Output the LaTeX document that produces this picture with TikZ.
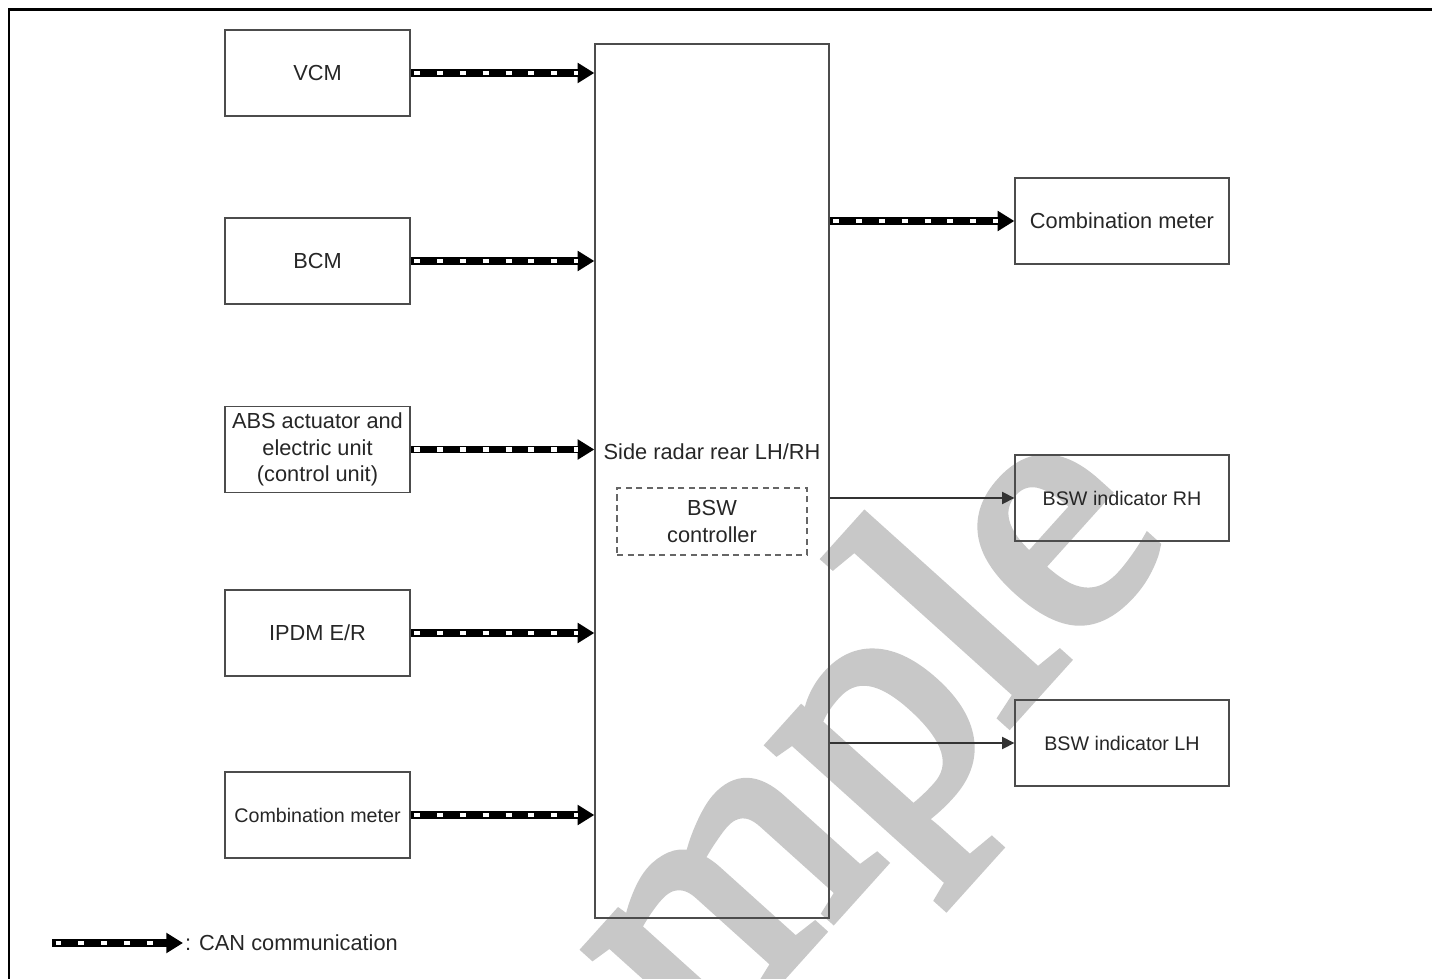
\documentclass[tikz,border=0pt]{standalone}
\usepackage{fontspec}
\setmainfont{Liberation Sans}
\newfontfamily\wmfont[FakeBold=3]{Liberation Serif}
\usetikzlibrary{arrows.meta}
\definecolor{wmgray}{RGB}{200,200,200}
\tikzset{
  unit/.style = {draw=black!70, line width=0.8pt, minimum width=3.7cm, minimum height=1.72cm,
                 align=center, inner sep=1pt, text=black!85, font=\fontsize{12.4}{15}\selectfont},
  small/.style = {font=\fontsize{11.2}{14}\selectfont},
  can/.style = {line width=4.5pt, -{Triangle[length=9.5pt,width=11pt]},
                postaction={draw=white, line width=2.8pt, arrows=-, dash pattern=on 3.4pt off 9.6pt,
                            dash phase=11pt, shorten >=9.5pt}},
  sig/.style = {line width=0.8pt, draw=black!80, -{Triangle[length=7pt,width=7pt]}},
}
\begin{document}
\begin{tikzpicture}[x=0.02cm, y=-0.02cm]
  \useasboundingbox (0,0) rectangle (1432,979);
  \begin{scope}
    \clip (0,0) rectangle (1432,979);
    \node [wmgray, inner sep=0, rotate=48, anchor=base west,
           font=\wmfont\fontsize{201}{201}\selectfont] (wmark) at (466,1326) {Sample};
  \end{scope}
  \draw [line width=1.7pt] (1432,10) -- (9,10) -- (9,979);

  % inputs
  \node [unit] (vcm)    at (317.5,73)    {VCM};
  \node [unit] (bcm)    at (317.5,261)   {BCM};
  \node [unit] (abs)    at (317.5,449.5) {ABS actuator and\\electric unit\\(control unit)};
  \node [unit] (ipdm)   at (317.5,633)   {IPDM E/R};
  \node [unit, small] (meterl) at (317.5,815) {Combination meter};

  % radar
  \node [unit, minimum width=4.68cm, minimum height=17.48cm] (radar) at (712,481) {};
  \node [text=black!85, font=\fontsize{12.4}{15}\selectfont] (radarlbl) at (712,452) {Side radar rear LH/RH};
  \node [unit, draw=black!60, dash pattern=on 3.5pt off 2.5pt, minimum width=3.8cm,
         minimum height=1.34cm] (bswc) at (712,521.5) {BSW\\controller};

  % outputs
  \node [unit, minimum width=4.28cm] (meterr) at (1122,221) {Combination meter};
  \node [unit, small, minimum width=4.28cm] (bswrh) at (1122,498) {BSW indicator RH};
  \node [unit, small, minimum width=4.28cm] (bswlh) at (1122,743) {BSW indicator LH};

  \foreach \n in {vcm,bcm,abs,ipdm,meterl}{
      \draw [can] (\n.east) -- (\n.east -| radar.west);
    }
  \draw [can] (radar.east |- meterr) -- (meterr.west);
  \draw [sig] (radar.east |- bswrh) -- (bswrh.west);
  \draw [sig] (radar.east |- bswlh) -- (bswlh.west);

  % legend
  \coordinate (cans) at (52,943);
  \node [anchor=west, inner sep=1pt, text=black!85, font=\fontsize{12.4}{15}\selectfont]
        (canlbl) at (183,943) {: CAN communication};
  \draw [can] (cans) -- (canlbl.west);
\end{tikzpicture}
\end{document}
